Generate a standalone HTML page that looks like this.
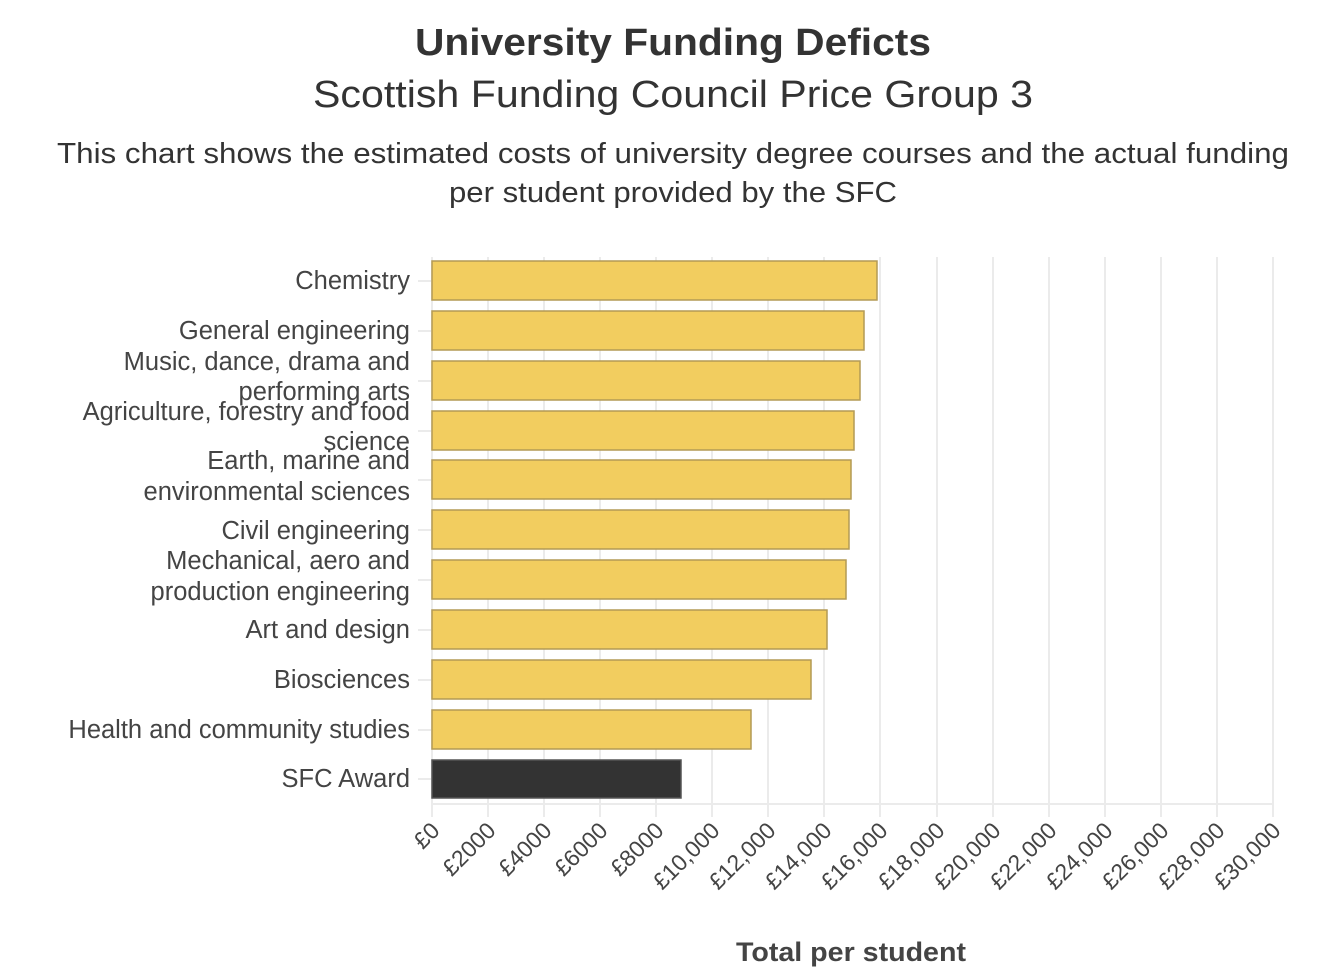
<!DOCTYPE html>
<html><head><meta charset="utf-8"><style>
body{margin:0;background:#fff;}
svg text{font-family:"Liberation Sans",sans-serif;}
</style></head><body>
<svg width="1336" height="972" viewBox="0 0 1336 972" xmlns="http://www.w3.org/2000/svg">
<text x="673" y="55" text-anchor="middle" font-size="38" font-weight="bold" fill="#333" textLength="516" lengthAdjust="spacingAndGlyphs">University Funding Deficts</text>
<text x="673" y="107" text-anchor="middle" font-size="38" fill="#333" textLength="720" lengthAdjust="spacingAndGlyphs">Scottish Funding Council Price Group 3</text>
<text x="673" y="163" text-anchor="middle" font-size="29" fill="#333" textLength="1232" lengthAdjust="spacingAndGlyphs">This chart shows the estimated costs of university degree courses and the actual funding</text>
<text x="673" y="202" text-anchor="middle" font-size="29" fill="#333" textLength="448" lengthAdjust="spacingAndGlyphs">per student provided by the SFC</text>
<g stroke="#ebebeb" stroke-width="2">
<line x1="432" y1="257" x2="432" y2="817"/><line x1="488" y1="257" x2="488" y2="817"/><line x1="544" y1="257" x2="544" y2="817"/><line x1="600" y1="257" x2="600" y2="817"/><line x1="656" y1="257" x2="656" y2="817"/><line x1="712" y1="257" x2="712" y2="817"/><line x1="768" y1="257" x2="768" y2="817"/><line x1="824" y1="257" x2="824" y2="817"/><line x1="880" y1="257" x2="880" y2="817"/><line x1="937" y1="257" x2="937" y2="817"/><line x1="993" y1="257" x2="993" y2="817"/><line x1="1049" y1="257" x2="1049" y2="817"/><line x1="1105" y1="257" x2="1105" y2="817"/><line x1="1161" y1="257" x2="1161" y2="817"/><line x1="1217" y1="257" x2="1217" y2="817"/><line x1="1273" y1="257" x2="1273" y2="817"/>
<line x1="432" y1="804" x2="1273" y2="804"/>
<line x1="418" y1="281" x2="432" y2="281"/><line x1="418" y1="331" x2="432" y2="331"/><line x1="418" y1="381" x2="432" y2="381"/><line x1="418" y1="431" x2="432" y2="431"/><line x1="418" y1="480" x2="432" y2="480"/><line x1="418" y1="530" x2="432" y2="530"/><line x1="418" y1="580" x2="432" y2="580"/><line x1="418" y1="630" x2="432" y2="630"/><line x1="418" y1="680" x2="432" y2="680"/><line x1="418" y1="730" x2="432" y2="730"/><line x1="418" y1="779" x2="432" y2="779"/>
</g>
<g fill="#f2cd5f" stroke="#b39a55" stroke-width="1.5">
<rect x="432" y="261" width="445" height="39"/>
<rect x="432" y="311" width="432" height="39"/>
<rect x="432" y="361" width="428" height="39"/>
<rect x="432" y="411" width="422" height="39"/>
<rect x="432" y="460" width="419" height="39"/>
<rect x="432" y="510" width="417" height="39"/>
<rect x="432" y="560" width="414" height="39"/>
<rect x="432" y="610" width="395" height="39"/>
<rect x="432" y="660" width="379" height="39"/>
<rect x="432" y="710" width="319" height="39"/>
</g>
<rect x="432" y="760" width="249" height="38" fill="#333" stroke="#555" stroke-width="1.5"/>
<g font-size="25.5" fill="#444" text-anchor="end">
<text x="410" y="289">Chemistry</text>
<text x="410" y="339">General engineering</text>
<text x="410" y="370">Music, dance, drama and</text>
<text x="410" y="400">performing arts</text>
<text x="410" y="420">Agriculture, forestry and food</text>
<text x="410" y="450">science</text>
<text x="410" y="469">Earth, marine and</text>
<text x="410" y="500">environmental sciences</text>
<text x="410" y="539">Civil engineering</text>
<text x="410" y="569">Mechanical, aero and</text>
<text x="410" y="600">production engineering</text>
<text x="410" y="638">Art and design</text>
<text x="410" y="688">Biosciences</text>
<text x="410" y="738">Health and community studies</text>
<text x="410" y="787">SFC Award</text>
</g>
<g font-size="23" fill="#444" text-anchor="end">
<text transform="translate(441,832) rotate(-45)">£0</text>
<text transform="translate(497,832) rotate(-45)">£2000</text>
<text transform="translate(553,832) rotate(-45)">£4000</text>
<text transform="translate(609,832) rotate(-45)">£6000</text>
<text transform="translate(665,832) rotate(-45)">£8000</text>
<text transform="translate(721,832) rotate(-45)">£10,000</text>
<text transform="translate(777,832) rotate(-45)">£12,000</text>
<text transform="translate(833,832) rotate(-45)">£14,000</text>
<text transform="translate(889,832) rotate(-45)">£16,000</text>
<text transform="translate(946,832) rotate(-45)">£18,000</text>
<text transform="translate(1002,832) rotate(-45)">£20,000</text>
<text transform="translate(1058,832) rotate(-45)">£22,000</text>
<text transform="translate(1114,832) rotate(-45)">£24,000</text>
<text transform="translate(1170,832) rotate(-45)">£26,000</text>
<text transform="translate(1226,832) rotate(-45)">£28,000</text>
<text transform="translate(1282,832) rotate(-45)">£30,000</text>
</g>
<text x="851" y="961" text-anchor="middle" font-size="27" font-weight="bold" fill="#444" textLength="230" lengthAdjust="spacingAndGlyphs">Total per student</text>
</svg>
</body></html>
